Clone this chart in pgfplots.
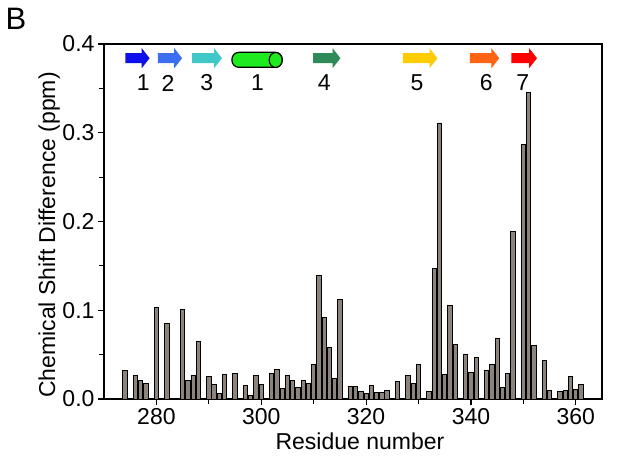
\documentclass[border=0pt]{standalone}
\usepackage{pgfplots}
\pgfplotsset{compat=1.18}
\usepackage{fontspec}
\setmainfont{Liberation Sans}
\definecolor{barfill}{RGB}{140,131,125}
\definecolor{c1}{RGB}{15,15,235}
\definecolor{c2}{RGB}{60,110,240}
\definecolor{c3}{RGB}{64,200,200}
\definecolor{c4}{RGB}{46,139,87}
\definecolor{c5}{RGB}{255,204,0}
\definecolor{c6}{RGB}{255,100,20}
\definecolor{c7}{RGB}{255,0,0}
\definecolor{hgreen}{RGB}{30,235,30}
\newcommand{\sarrow}[4]{%
  \fill[#4] (axis cs:#1,0.3784) -- (axis cs:#2,0.3784) -- (axis cs:#2,0.3727)
   -- (axis cs:#3,0.384) -- (axis cs:#2,0.3953) -- (axis cs:#2,0.3896)
   -- (axis cs:#1,0.3896) -- cycle;}
\pgfplotstableread{
x y
274 0.032
276 0.027
277 0.021
278 0.017
280 0.103
282 0.085
285 0.101
286 0.021
287 0.027
288 0.065
290 0.025
291 0.016
292 0.006
293 0.028
295 0.029
297 0.015
298 0.004
299 0.026
300 0.016
302 0.029
303 0.033
304 0.012
305 0.026
306 0.021
307 0.013
308 0.021
309 0.018
310 0.039
311 0.139
312 0.092
313 0.058
314 0.023
315 0.112
317 0.014
318 0.014
319 0.009
320 0.006
321 0.015
322 0.007
323 0.007
324 0.010
326 0.020
328 0.026
329 0.018
330 0.039
332 0.008
333 0.147
334 0.311
335 0.028
336 0.105
337 0.061
339 0.050
340 0.030
341 0.047
343 0.032
344 0.039
345 0.068
346 0.013
347 0.029
348 0.189
350 0.287
351 0.345
352 0.060
354 0.043
355 0.010
357 0.009
358 0.010
359 0.025
360 0.011
361 0.016
}\csd
\begin{document}
\begin{tikzpicture}
\begin{axis}[
  scale only axis,
  width=498pt, height=355pt,
  xmin=270, xmax=365, ymin=0, ymax=0.4,
  xtick={280,300,...,360},
  ytick={0,0.1,0.2,0.3,0.4},
  minor x tick num=1, minor y tick num=1,
  tick align=outside,
  xtick pos=bottom, ytick pos=left,
  major tick length=6pt, minor tick length=5pt,
  axis line style={line width=1.3pt},
  every tick/.style={line width=1.2pt, black},
  tick label style={font=\fontsize{23}{26}\selectfont},
  /pgf/number format/assume math mode=true,
  yticklabel style={/pgf/number format/.cd, fixed, fixed zerofill, precision=1},
  xticklabel style={/pgf/number format/.cd, fixed, precision=0, 1000 sep={}},
  every axis x label/.style={at={(axis description cs:0.514,-0.118)},anchor=center,font=\fontsize{23}{26}\selectfont},
  every axis y label/.style={at={(axis description cs:-0.11,0.462)},rotate=90,anchor=center,font=\fontsize{23}{26}\selectfont},
  xlabel={Residue number},
  ylabel={Chemical Shift Difference (ppm)},
]
\addplot[ybar, bar width=0.82, bar shift=0pt, fill=barfill, draw=black, line width=0.9pt] table[x=x,y=y]{\csd};
\sarrow{274.1}{277.2}{278.7}{c1}
\sarrow{280.3}{283.4}{284.9}{c2}
\sarrow{286.8}{291.0}{292.5}{c3}
\sarrow{309.9}{313.6}{315.1}{c4}
\sarrow{327.0}{332.1}{333.6}{c5}
\sarrow{339.8}{343.9}{345.4}{c6}
\sarrow{347.7}{351.1}{352.6}{c7}
\draw[fill=hgreen, line width=1.2pt, rounded corners=7pt] (axis cs:294.4,0.3737) rectangle (axis cs:304.0,0.3906);
\draw[fill=hgreen, line width=1.2pt] (axis cs:302.75,0.382) ellipse [x radius=6.5pt, y radius=7.5pt];
\begin{scope}[every node/.style={font=\fontsize{23}{26}\selectfont, anchor=center}]
\node at (axis cs:277.5,0.356) {1};
\node at (axis cs:282.2,0.356) {2};
\node at (axis cs:289.6,0.356) {3};
\node at (axis cs:299.3,0.356) {1};
\node at (axis cs:312.0,0.356) {4};
\node at (axis cs:329.7,0.356) {5};
\node at (axis cs:342.9,0.356) {6};
\node at (axis cs:349.9,0.356) {7};
\end{scope}
\coordinate (sw) at (rel axis cs:0,0);
\coordinate (ne) at (rel axis cs:1,1);
\end{axis}
\node[font=\fontsize{31}{33}\selectfont, anchor=center] at ([shift={(-88pt,380pt)}]sw) {B};
\path ([shift={(-104pt,-69pt)}]sw) rectangle ([shift={(19pt,44pt)}]ne);
\end{tikzpicture}
\end{document}
